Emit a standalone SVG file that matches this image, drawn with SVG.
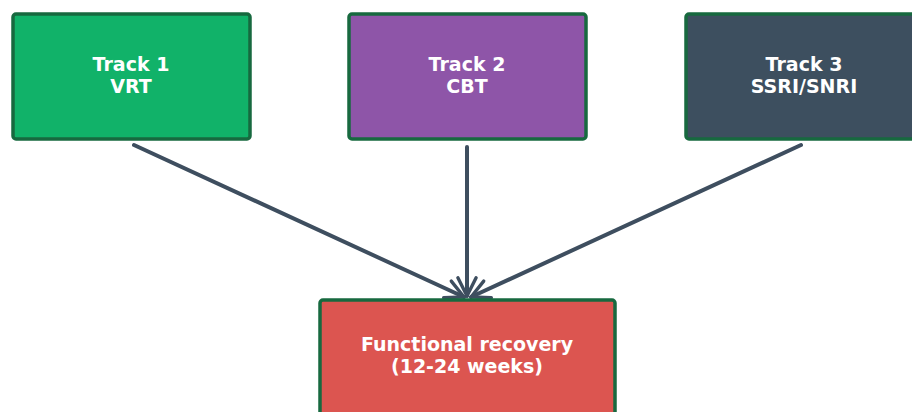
<svg xmlns="http://www.w3.org/2000/svg" width="912" height="412" viewBox="0 0 912 412">
<defs>
<style>
.box{stroke:#17693f;stroke-width:3.5}
.t{font-family:"DejaVu Sans",sans-serif;font-weight:bold;font-size:19px;fill:#ffffff;text-anchor:middle}
.c{fill:none;stroke:#3e4e5f;stroke-width:4;stroke-linecap:round}
</style>
<marker id="ah" viewBox="0 0 20 20" refX="18" refY="10" markerWidth="6.5" markerHeight="6.5" orient="auto" markerUnits="strokeWidth">
<path d="M4,3 L18,10 L4,17" fill="none" stroke="#3e4e5f" stroke-width="2.6" stroke-linecap="round" stroke-linejoin="round"/>
</marker>
</defs>
<rect width="912" height="412" fill="#ffffff"/>
<g id="connectors">
<line class="c" x1="134" y1="145" x2="464" y2="297" marker-end="url(#ah)"/>
<line class="c" x1="467" y1="147" x2="467" y2="296" marker-end="url(#ah)"/>
<line class="c" x1="801" y1="145" x2="471" y2="297" marker-end="url(#ah)"/>
</g>
<g id="track1">
<rect class="box" x="13" y="14" width="237" height="125" rx="3" fill="#11b269"/>
<text class="t" x="131" y="71">Track 1</text>
<text class="t" x="131" y="93">VRT</text>
</g>
<g id="track2">
<rect class="box" x="349" y="14" width="237" height="125" rx="3" fill="#8e55a8"/>
<text class="t" x="467" y="71">Track 2</text>
<text class="t" x="467" y="93">CBT</text>
</g>
<g id="track3">
<rect class="box" x="686" y="14" width="237" height="125" rx="3" fill="#3d4f5f"/>
<text class="t" x="804" y="71">Track 3</text>
<text class="t" x="804" y="93">SSRI/SNRI</text>
</g>
<g id="recovery">
<rect class="box" x="320" y="300" width="295" height="125" rx="3" fill="#dc5550" stroke-width="4.5"/>
<text class="t" x="467" y="351">Functional recovery</text>
<text class="t" x="467" y="373">(12-24 weeks)</text>
</g>
</svg>
